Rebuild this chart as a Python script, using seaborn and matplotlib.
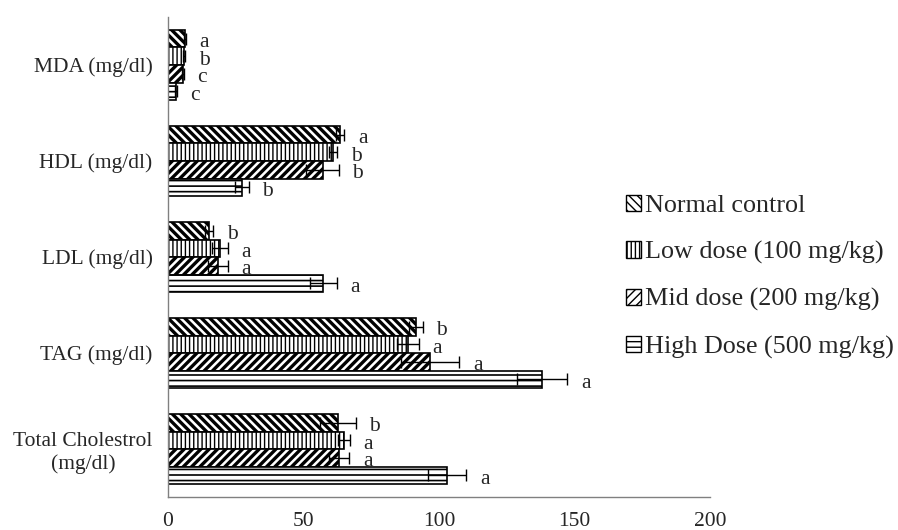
import pandas as pd
import numpy as np
import matplotlib
matplotlib.use("Agg")
import matplotlib.pyplot as plt
import seaborn as sns
from matplotlib.patches import Patch

# Chart values
parameters = ["MDA (mg/dl)", "HDL (mg/dl)", "LDL (mg/dl)", "TAG (mg/dl)", "Total Cholestrol\n(mg/dl)"]
groups = ["Normal control", "Low dose (100 mg/kg)", "Mid dose (200 mg/kg)", "High Dose (500 mg/kg)"]

normal_mean = [6.3, 63.5, 15.1, 91.5, 62.7]
low_mean = [5.9, 61.0, 19.2, 88.6, 64.9]
mid_mean = [5.5, 57.0, 18.5, 96.7, 63.2]
high_mean = [3.0, 27.3, 57.3, 138.0, 103.0]

normal_err = [0.4, 1.5, 1.6, 2.5, 6.5]
low_err = [0.4, 1.5, 3.0, 4.0, 2.2]
mid_err = [0.4, 6.0, 3.6, 10.7, 3.7]
high_err = [0.3, 2.5, 5.0, 9.3, 7.0]

normal_sig = ["a", "a", "b", "b", "b"]
low_sig = ["b", "b", "a", "a", "a"]
mid_sig = ["c", "b", "a", "a", "a"]
high_sig = ["c", "b", "a", "a", "a"]

means = [normal_mean, low_mean, mid_mean, high_mean]
errs = [normal_err, low_err, mid_err, high_err]
sigs = [normal_sig, low_sig, mid_sig, high_sig]

df = pd.DataFrame({
    "parameter": parameters * len(groups),
    "group": np.repeat(groups, len(parameters)),
    "value": sum(means, []),
})

sns.set_style("white")
plt.rcParams["font.family"] = ["Liberation Serif", "DejaVu Serif"]
plt.rcParams["hatch.linewidth"] = 1.0

fig = plt.figure(figsize=(8.98, 5.30), dpi=100)
ax = fig.add_axes([0.187, 0.062, 0.604, 0.906])

sns.barplot(data=df, x="value", y="parameter", hue="group", orient="h",
            order=parameters, hue_order=groups, errorbar=None,
            palette=["white"] * 4, width=0.73, ax=ax, legend=False)

hatches = ["\\\\\\\\", "||||", "////", "---"]
hatch_lw = [2.4, 1.0, 2.4, 1.2]

bar_groups = list(ax.containers)
for i, cont in enumerate(bar_groups):
    for j, bar in enumerate(cont.patches):
        bar.set_facecolor("white")
        bar.set_edgecolor("black")
        bar.set_linewidth(1.2)
        bar.set_hatch(hatches[i])
        if hasattr(bar, "set_hatch_linewidth"):
            bar.set_hatch_linewidth(hatch_lw[i])
        yc = bar.get_y() + bar.get_height() / 2
        xv = bar.get_width()
        ax.errorbar(xv, yc, xerr=errs[i][j], fmt="none", ecolor="black",
                    elinewidth=1.0, capsize=4.5, capthick=1.0, zorder=5)
        ax.text(xv + errs[i][j] + 5, yc + 0.04, sigs[i][j], fontsize=15.5,
                va="center", ha="left")

ax.set_xlim(0, 200)
ax.set_ylim(4.5, -0.5)
ax.set_xticks([0, 50, 100, 150, 200])
ax.set_xlabel("")
ax.set_ylabel("")
ax.tick_params(axis="both", length=0, labelsize=15.5)
ax.tick_params(axis="x", pad=11)
ax.tick_params(axis="y", pad=11)
for lab in ax.get_yticklabels():
    lab.set_multialignment("center")
for s in ["top", "right"]:
    ax.spines[s].set_visible(False)
for s in ["left", "bottom"]:
    ax.spines[s].set_color("#808080")
    ax.spines[s].set_linewidth(1.0)

handles = []
for i, g in enumerate(groups):
    p = Patch(facecolor="white", edgecolor="black", hatch=hatches[i], label=g)
    handles.append(p)
fig.legend(handles=handles, loc="center left", bbox_to_anchor=(0.685, 0.478),
           frameon=False, fontsize=18.8, handlelength=0.6, handleheight=0.6,
           handletextpad=0.15, labelspacing=0.92, borderaxespad=0)

fig.savefig("out.png", dpi=100)
